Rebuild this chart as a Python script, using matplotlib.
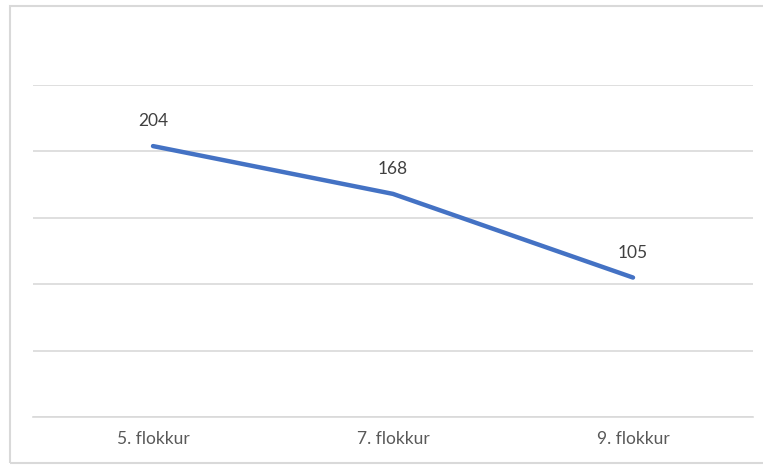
import matplotlib
matplotlib.use("Agg")
import matplotlib.pyplot as plt
from matplotlib.patches import Rectangle

categories = ["5. flokkur", "7. flokkur", "9. flokkur"]
values = [204, 168, 105]
grid_values = [0, 50, 100, 150, 200, 250]

W, H = 763, 466
fig = plt.figure(figsize=(W/100, H/100), dpi=100)
plt.rcParams['font.family'] = ['Lato', 'DejaVu Sans']

ax = fig.add_axes([33/W, 49/H, 720/W, (417-85)/H])
x = list(range(len(categories)))
ax.plot(x, values, color="#4472C4", linewidth=3.2, solid_capstyle="round", zorder=3)
for xi, v in zip(x, values):
    ax.annotate(str(v), (xi, v), xytext=(0, 12), textcoords="offset points",
                ha="center", va="bottom", fontsize=12.5, color="#404040")

ax.set_xlim(-0.5, len(categories) - 0.5)
ax.set_ylim(0, 250)
ax.set_yticks(grid_values)
ax.set_yticklabels([])
ax.yaxis.grid(True, color="#d9d9d9", linewidth=1.2)
ax.set_xticks(x)
ax.set_xticklabels(categories, fontsize=12.5, color="#595959")
ax.tick_params(axis="both", length=0)
ax.tick_params(axis="x", pad=10)
for s in ["top", "right", "left"]:
    ax.spines[s].set_visible(False)
ax.spines["bottom"].set_color("#d9d9d9")
ax.spines["bottom"].set_linewidth(1.2)
ax.set_axisbelow(True)

fig.patches.append(Rectangle((9.5/W, 3/H), 780/W, 457/H, transform=fig.transFigure,
                             fill=False, edgecolor="#d9d9d9", linewidth=1.5))

fig.savefig("out.png", dpi=100, facecolor="white")
